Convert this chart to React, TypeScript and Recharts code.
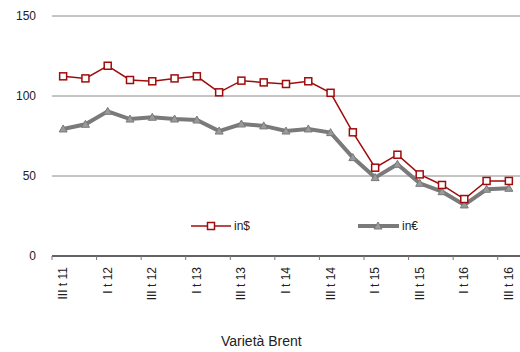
import { CartesianGrid, Line, LineChart, XAxis, YAxis } from "recharts";

const trimestri = [
  "III t 11", "IV t 11", "I t 12", "II t 12", "III t 12", "IV t 12", "I t 13",
  "II t 13", "III t 13", "IV t 13", "I t 14", "II t 14", "III t 14", "IV t 14",
  "I t 15", "II t 15", "III t 15", "IV t 15", "I t 16", "II t 16", "III t 16",
];
const inDollari = [
  112.3, 111, 118.9, 110, 109.2, 111, 112.3, 102.3, 109.6, 108.5, 107.5,
  109.2, 102, 77.3, 55.2, 63.3, 51, 44.4, 35.6, 46.9, 46.9,
];
const inEuro = [
  79.4, 82.3, 90.4, 85.6, 86.7, 85.6, 85, 78.1, 82.5, 81.3, 78.1,
  79.4, 77.1, 61.5, 49, 57.3, 45.4, 40.2, 31.9, 41.7, 42.3,
];
const yTicks = [0, 50, 100, 150];

const data = trimestri.map((t, i) => ({ t, usd: inDollari[i], eur: inEuro[i] }));

const ROSSO = "#a00c0c";
const GRIGIO = "#7a7a7a";
const FONT = "'Liberation Sans', Arial, sans-serif";

const Quadrato = (p: any) => (
  <rect x={p.cx - 3.5} y={p.cy - 3.5} width={7} height={7} fill="#fff" stroke={ROSSO} strokeWidth={1.5} />
);
const Triangolo = (p: any) => (
  <path
    d={`M${p.cx},${p.cy - 4} L${p.cx + 4},${p.cy + 3} L${p.cx - 4},${p.cy + 3} Z`}
    fill="#9a9a9a"
    stroke={GRIGIO}
    strokeWidth={1}
  />
);

function TickTrimestre(props: any) {
  const { x, y, index } = props;
  if (index % 2 !== 0) return null;
  const band = 468 / trimestri.length;
  const left = x - band / 2;
  return (
    <g>
      <line x1={left} x2={left} y1={y - 8} y2={y - 4} stroke="#777" />
      <text
        x={x}
        y={y + 3}
        transform={`rotate(-90 ${x} ${y + 3})`}
        textAnchor="end"
        dominantBaseline="central"
        fontSize={12}
        fontFamily={FONT}
        fill="#222"
      >
        {trimestri[index]}
      </text>
    </g>
  );
}

function Legenda() {
  return (
    <svg width={520} height={20} style={{ position: "absolute", top: 216, left: 0 }}>
      <line x1={191} x2={231} y1={10} y2={10} stroke={ROSSO} strokeWidth={1.5} />
      <rect x={207.5} y={6.5} width={7} height={7} fill="#fff" stroke={ROSSO} strokeWidth={1.5} />
      <text x={234} y={10} dominantBaseline="central" fontSize={12} fontFamily={FONT} fill="#222">in$</text>
      <line x1={358} x2={399} y1={10} y2={10} stroke={GRIGIO} strokeWidth={4} />
      <path d="M378,6 L382,13 L374,13 Z" fill="#9a9a9a" stroke={GRIGIO} />
      <text x={402} y={10} dominantBaseline="central" fontSize={12} fontFamily={FONT} fill="#222">in€</text>
    </svg>
  );
}

export default function App() {
  return (
    <div style={{ position: "relative", width: 520, height: 352, background: "#fff" }}>
      <style>{`body{margin:0}`}</style>
      <LineChart width={520} height={352} data={data} margin={{ top: 16, right: 0, left: 0, bottom: 0 }}>
        <CartesianGrid horizontal vertical={false} stroke="#8c8c8c" />
        <XAxis
          dataKey="t"
          scale="band"
          interval={0}
          height={96}
          tick={<TickTrimestre />}
          tickLine={false}
          axisLine={{ stroke: "#000" }}
        />
        <YAxis
          width={52}
          domain={[0, 150]}
          ticks={yTicks}
          tickLine={false}
          axisLine={false}
          tickMargin={10}
          tick={{ fontSize: 12, fontFamily: FONT, fill: "#222" }}
        />
        <Line
          dataKey="eur"
          stroke={GRIGIO}
          strokeWidth={4}
          dot={<Triangolo />}
          isAnimationActive={false}
        />
        <Line
          dataKey="usd"
          stroke={ROSSO}
          strokeWidth={1.5}
          dot={<Quadrato />}
          isAnimationActive={false}
        />
      </LineChart>
      <Legenda />
      <div
        style={{
          position: "absolute",
          top: 333,
          left: 221,
          fontFamily: FONT,
          fontSize: 14,
          lineHeight: "16px",
          color: "#222",
        }}
      >
        Varietà Brent
      </div>
    </div>
  );
}
